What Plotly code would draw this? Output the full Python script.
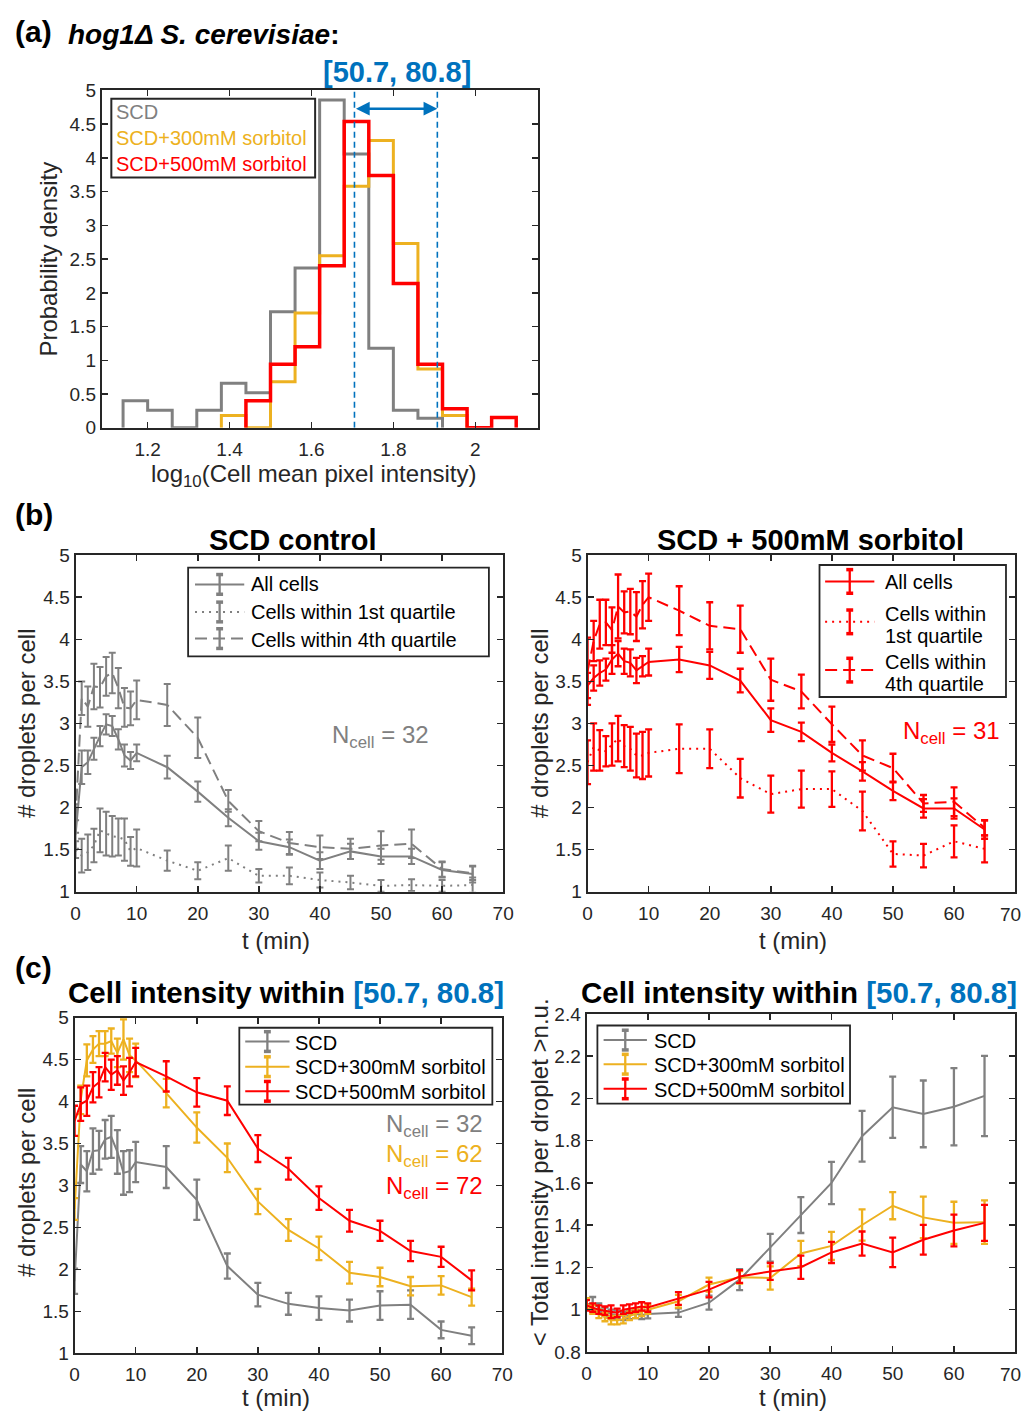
import math
import plotly.graph_objects as go

W, H = 1035, 1423
FONT = "Liberation Sans, Arial, sans-serif"
AX = "#262626"
GRAY = "#808080"
YEL = "#EDB120"
RED = "#FF0000"
BLUE = "#0072BD"

# ---------------- data: panel (a) histograms ----------------
bin_width = 0.06
scd_bin_start = 1.14
scd_density = [0.40, 0.26, 0.00, 0.26, 0.66, 0.52, 1.72, 2.37, 4.86, 4.06, 1.18, 0.26, 0.14]
s300_bin_start = 1.38
s300_density = [0.18, 0.00, 0.68, 1.70, 2.55, 3.58, 4.26, 2.73, 0.87, 0.18]
s500_bin_start = 1.44
s500_density = [0.40, 0.94, 1.20, 2.40, 4.54, 3.74, 2.14, 0.94, 0.28, 0.00, 0.15]
intensity_window = [50.7, 80.8]
hist_names = ["SCD", "SCD+300mM sorbitol", "SCD+500mM sorbitol"]

# ---------------- data: time axis ----------------
t_min = [0, 1, 2, 3, 4, 5, 6, 7, 8, 9, 10, 15, 20, 25, 30, 35, 40, 45, 50, 55, 60, 65]
t_ticks = [0, 10, 20, 30, 40, 50, 60, 70]

# ---------------- panel (b) SCD control ----------------
b_scd_all = [1.68, 2.48, 2.54, 2.70, 2.85, 2.99, 2.97, 2.81, 2.62, 2.56, 2.65,
             2.48, 2.19, 1.88, 1.60, 1.53, 1.37, 1.48, 1.42, 1.42, 1.26, 1.21]
b_scd_all_err = [0.17, 0.20, 0.14, 0.13, 0.12, 0.12, 0.12, 0.12, 0.13, 0.10, 0.10,
                 0.135, 0.12, 0.10, 0.10, 0.09, 0.10, 0.09, 0.09, 0.09, 0.09, 0.10]
b_scd_q4 = [1.87, 3.30, 3.20, 3.44, 3.43, 3.56, 3.60, 3.42, 3.19, 3.18, 3.28,
            3.22, 2.83, 2.08, 1.72, 1.58, 1.53, 1.51, 1.55, 1.57, 1.27, 1.22]
b_scd_q4_err = [0.17, 0.20, 0.24, 0.27, 0.24, 0.23, 0.24, 0.24, 0.23, 0.20, 0.23,
                0.25, 0.24, 0.13, 0.12, 0.13, 0.14, 0.12, 0.17, 0.17, 0.09, 0.08]
b_scd_q1 = [1.50, 1.43, 1.47, 1.55, 1.73, 1.69, 1.66, 1.65, 1.62, 1.48, 1.52,
            1.37, 1.25, 1.40, 1.19, 1.19, 1.14, 1.11, 1.07, 1.08, 1.07, 1.08]
b_scd_q1_err = [0.10, 0.20, 0.21, 0.20, 0.26, 0.26, 0.24, 0.22, 0.25, 0.17, 0.22,
                0.12, 0.10, 0.15, 0.08, 0.10, 0.09, 0.08, 0.07, 0.07, 0.07, 0.09]

# ---------------- panel (b) SCD + 500mM sorbitol ----------------
b_sor_all = [3.45, 3.54, 3.60, 3.64, 3.76, 3.83, 3.74, 3.72, 3.63, 3.68, 3.73,
             3.76, 3.69, 3.51, 3.04, 2.90, 2.65, 2.43, 2.20, 1.99, 1.99, 1.74]
b_sor_all_err = [0.15, 0.15, 0.15, 0.13, 0.17, 0.15, 0.15, 0.16, 0.15, 0.12, 0.16,
                 0.15, 0.16, 0.14, 0.14, 0.11, 0.10, 0.11, 0.11, 0.11, 0.12, 0.11]
b_sor_q4 = [3.62, 3.98, 4.18, 4.20, 4.11, 4.39, 4.32, 4.33, 4.27, 4.41, 4.50,
            4.34, 4.16, 4.12, 3.52, 3.38, 2.99, 2.62, 2.47, 2.05, 2.07, 1.76]
b_sor_q4_err = [0.40, 0.24, 0.29, 0.27, 0.27, 0.38, 0.25, 0.27, 0.29, 0.28, 0.28,
                0.29, 0.28, 0.28, 0.25, 0.20, 0.21, 0.18, 0.17, 0.10, 0.17, 0.09]
b_sor_q1 = [2.54, 2.72, 2.68, 2.67, 2.75, 2.82, 2.73, 2.70, 2.62, 2.62, 2.65,
            2.70, 2.70, 2.35, 2.16, 2.22, 2.22, 1.96, 1.45, 1.43, 1.60, 1.51]
b_sor_q1_err = [0.26, 0.28, 0.24, 0.18, 0.25, 0.27, 0.25, 0.26, 0.26, 0.28, 0.28,
                0.29, 0.23, 0.23, 0.22, 0.22, 0.21, 0.23, 0.15, 0.14, 0.19, 0.16]
b_ncell = [32, 31]
b_legend_left = [["All cells"], ["Cells within 1st quartile"], ["Cells within 4th quartile"]]
b_legend_right = [["All cells"], ["Cells within", "1st quartile"], ["Cells within", "4th quartile"]]

# ---------------- panel (c) droplets per cell within window ----------------
c_scd = [1.86, 3.25, 3.17, 3.41, 3.42, 3.55, 3.58, 3.40, 3.15, 3.17, 3.28,
         3.22, 2.83, 2.04, 1.70, 1.59, 1.54, 1.51, 1.57, 1.58, 1.28, 1.21]
c_scd_err = [0.15, 0.22, 0.24, 0.27, 0.23, 0.23, 0.25, 0.26, 0.26, 0.25, 0.24,
             0.25, 0.24, 0.15, 0.14, 0.13, 0.14, 0.13, 0.17, 0.17, 0.10, 0.10]
c_300 = [2.72, 4.02, 4.49, 4.62, 4.69, 4.69, 4.72, 4.58, 4.74, 4.55, 4.49,
         4.10, 3.69, 3.33, 2.81, 2.47, 2.25, 1.96, 1.91, 1.80, 1.81, 1.67]
c_300_err = [0.13, 0.17, 0.19, 0.16, 0.15, 0.15, 0.15, 0.17, 0.24, 0.20, 0.20,
             0.17, 0.18, 0.17, 0.15, 0.13, 0.14, 0.13, 0.11, 0.11, 0.11, 0.10]
c_500 = [3.77, 3.97, 4.01, 4.17, 4.23, 4.41, 4.32, 4.37, 4.25, 4.35, 4.47,
         4.30, 4.11, 4.01, 3.44, 3.20, 2.85, 2.58, 2.46, 2.22, 2.15, 1.87]
c_500_err = [0.18, 0.20, 0.18, 0.18, 0.18, 0.17, 0.18, 0.17, 0.17, 0.17, 0.17,
             0.18, 0.17, 0.17, 0.16, 0.13, 0.14, 0.13, 0.12, 0.12, 0.12, 0.12]
c_ncell = [32, 62, 72]

# ---------------- panel (c) total intensity per droplet ----------------
d_scd = [1.025, 1.03, 1.01, 0.99, 0.98, 0.975, 0.97, 0.975, 0.98, 0.975, 0.979,
         0.986, 1.033, 1.142, 1.293, 1.448, 1.600, 1.821, 1.958, 1.927, 1.961, 2.012]
d_scd_err = [0.025, 0.03, 0.02, 0.02, 0.02, 0.02, 0.02, 0.02, 0.02, 0.02, 0.02,
             0.02, 0.033, 0.05, 0.066, 0.085, 0.10, 0.12, 0.145, 0.158, 0.183, 0.19]
d_300 = [1.03, 1.00, 0.98, 0.965, 0.95, 0.95, 0.955, 0.97, 0.98, 0.99, 1.00,
         1.04, 1.119, 1.153, 1.150, 1.266, 1.302, 1.401, 1.492, 1.437, 1.411, 1.414]
d_300_err = [0.025, 0.02, 0.02, 0.02, 0.02, 0.02, 0.02, 0.02, 0.02, 0.02, 0.02,
             0.03, 0.033, 0.03, 0.055, 0.06, 0.066, 0.074, 0.064, 0.098, 0.10, 0.103]
d_500 = [1.02, 1.01, 1.00, 0.995, 0.99, 0.985, 1.00, 1.005, 1.01, 1.015, 1.01,
         1.053, 1.095, 1.157, 1.181, 1.201, 1.271, 1.313, 1.271, 1.331, 1.375, 1.411]
d_500_err = [0.025, 0.02, 0.02, 0.02, 0.03, 0.02, 0.02, 0.02, 0.02, 0.02, 0.02,
             0.03, 0.037, 0.03, 0.04, 0.055, 0.05, 0.057, 0.07, 0.07, 0.075, 0.085]


# ---------------- helpers ----------------
def fx(p):
    return p / W


def fy(p):
    return 1 - p / H


def stairs(start, width, vals):
    edges = [start + i * width for i in range(len(vals) + 1)]
    return [edges[0]] + edges, [0] + list(vals) + [0]


DASH = "12px,6px"
DOT = "2px,5px"

fig = go.Figure()

for (start, dens, col, lw) in [(scd_bin_start, scd_density, GRAY, 3),
                                (s300_bin_start, s300_density, YEL, 3),
                                (s500_bin_start, s500_density, RED, 3.5)]:
    xs, ys = stairs(start, bin_width, dens)
    fig.add_trace(go.Scatter(x=xs, y=ys, mode="lines", line=dict(color=col, width=lw, shape="hv"),
                             showlegend=False, xaxis="x", yaxis="y", cliponaxis=True))

lo, hi = [math.log10(v) for v in intensity_window]


def err_trace(x, y, e, col, dash, lw, ax, cw, th):
    return go.Scatter(x=x, y=y, mode="lines", line=dict(color=col, width=lw, dash=dash),
                      error_y=dict(type="data", array=e, visible=True, color=col, thickness=th, width=cw),
                      showlegend=False, xaxis="x" + ax, yaxis="y" + ax)


for (y, e, dash) in [(b_scd_all, b_scd_all_err, "solid"), (b_scd_q1, b_scd_q1_err, DOT), (b_scd_q4, b_scd_q4_err, DASH)]:
    fig.add_trace(err_trace(t_min, y, e, GRAY, dash, 2, "2", 3.5, 2))
for (y, e, dash) in [(b_sor_all, b_sor_all_err, "solid"), (b_sor_q1, b_sor_q1_err, DOT), (b_sor_q4, b_sor_q4_err, DASH)]:
    fig.add_trace(err_trace(t_min, y, e, RED, dash, 2, "3", 3.5, 2.3))
for (y, e, col) in [(c_scd, c_scd_err, GRAY), (c_300, c_300_err, YEL), (c_500, c_500_err, RED)]:
    fig.add_trace(err_trace(t_min, y, e, col, "solid", 2, "4", 3.5, 2.3))
for (y, e, col) in [(d_scd, d_scd_err, GRAY), (d_300, d_300_err, YEL), (d_500, d_500_err, RED)]:
    fig.add_trace(err_trace(t_min, y, e, col, "solid", 2, "5", 3.5, 2.3))


def axis(domain_px, horizontal, rng, dtick, tick0=0, **kw):
    if horizontal:
        dom = [fx(domain_px[0]), fx(domain_px[1])]
    else:
        dom = [fy(domain_px[1]), fy(domain_px[0])]
    d = dict(domain=dom, range=rng, tickmode="linear", tick0=tick0, dtick=dtick,
             showline=True, linecolor=AX, linewidth=2, mirror="ticks", ticks="inside",
             ticklen=6, tickwidth=1.5, tickcolor=AX, showgrid=False, zeroline=False,
             tickfont=dict(family=FONT, size=19, color=AX))
    d.update(kw)
    return d


# right-hand time axes: last label drawn as text just inside the page edge
t_text_right = [str(v) for v in t_ticks[:-1]] + [""]

fig.update_layout(
    autosize=True,
    margin=dict(l=0, r=0, t=0, b=0, pad=0),
    paper_bgcolor="white", plot_bgcolor="white",
    font=dict(family=FONT, color=AX),
    showlegend=False,
    xaxis=axis([98.3, 541.7], True, [1.088, 2.154], 0.2, anchor="y", ticklabelstandoff=3),
    yaxis=axis([81.7, 424], False, [0, 5], 0.5, anchor="x"),
    xaxis2=axis([71.7, 506], True, [0, 70], 10, anchor="y2", ticklabelstandoff=3),
    yaxis2=axis([553.3, 895], False, [1, 5], 0.5, anchor="x2"),
    xaxis3=axis([591.7, 1026], True, [0, 70], 10, anchor="y3", ticklabelstandoff=3,
                tickmode="array", tickvals=t_ticks, ticktext=t_text_right),
    yaxis3=axis([553.3, 895], False, [1, 5], 0.5, anchor="x3"),
    xaxis4=axis([70.7, 505], True, [0, 70], 10, anchor="y4", ticklabelstandoff=3),
    yaxis4=axis([1022.7, 1363.5], False, [1, 5], 0.5, anchor="x4"),
    xaxis5=axis([590.7, 1026], True, [0, 70], 10, anchor="y5", ticklabelstandoff=3,
                tickmode="array", tickvals=t_ticks, ticktext=t_text_right),
    yaxis5=axis([1019, 1362], False, [0.8, 2.4], 0.2, tick0=0.8, anchor="x5"),
)

ann = []
shapes = []


def text(x, y, s, size, color=AX, xanchor="center", angle=0):
    ann.append(dict(x=fx(x), y=fy(y), xref="paper", yref="paper", text=s, showarrow=False,
                    xanchor=xanchor, yanchor="middle", textangle=angle,
                    font=dict(family=FONT, size=size, color=color)))


def pline(x0, y0, x1, y1, col, w, dash="solid"):
    shapes.append(dict(type="line", xref="paper", yref="paper", x0=fx(x0), y0=fy(y0), x1=fx(x1), y1=fy(y1),
                       line=dict(color=col, width=w, dash=dash)))


def legend(box, gx, tx, rows, size=20):
    x0, x1, y0, y1 = box
    shapes.append(dict(type="rect", xref="paper", yref="paper", x0=fx(x0), x1=fx(x1), y0=fy(y1), y1=fy(y0),
                       line=dict(color=AX, width=1.8), fillcolor="white"))
    for (gy, half, col, dash, lines, lys) in rows:
        pline(gx[0], gy, gx[1], gy, col, 2, dash)
        gc = (gx[0] + gx[1]) / 2
        pline(gc, gy - half, gc, gy + half, col, 2.3)
        pline(gc - 3.5, gy - half, gc + 3.5, gy - half, col, 3.5)
        pline(gc - 3.5, gy + half, gc + 3.5, gy + half, col, 3.5)
        for s, ly in zip(lines, lys):
            text(tx, ly, s, size, "black", "left")


legend((186, 491.5, 566, 656), (193, 243), 248,
       [(583, 10, GRAY, "solid", b_legend_left[0], [583]),
        (611, 10, GRAY, DOT, b_legend_left[1], [611]),
        (638, 10, GRAY, DASH, b_legend_left[2], [639])])
legend((827.3, 1016.7, 563.3, 697.3), (833, 883), 892,
       [(580, 12, RED, "solid", b_legend_right[0], [581]),
        (621, 12, RED, DOT, b_legend_right[1], [613, 635]),
        (670, 12, RED, DASH, b_legend_right[2], [662, 684])])
legend((238, 495, 1033, 1111), (244, 289), 293,
       [(1047, 10, GRAY, "solid", [hist_names[0]], [1048]),
        (1072.5, 10, YEL, "solid", [hist_names[1]], [1073]),
        (1097.5, 10, RED, "solid", [hist_names[2]], [1098])])
legend((601.7, 858.3, 1030.7, 1110), (608, 652), 657,
       [(1045.5, 10, GRAY, "solid", [hist_names[0]], [1046]),
        (1070, 10, YEL, "solid", [hist_names[1]], [1071]),
        (1095, 10, RED, "solid", [hist_names[2]], [1096])])

text(8, 22, "<b>(a)</b>", 30, "black", "left")
text(62, 25, "<b><i>hog1Δ S. cerevisiae</i>:</b>", 28, "black", "left")
text(398, 63, "<b>[%.1f, %.1f]</b>" % tuple(intensity_window), 29, BLUE)
text(8, 512, "<b>(b)</b>", 30, "black", "left")
text(293, 538, "<b>SCD control</b>", 29, "black")
text(818, 538, "<b>SCD + 500mM sorbitol</b>", 29, "black")
text(8, 972, "<b>(c)</b>", 30, "black", "left")
ctitle = "<b>Cell intensity within <span style='color:%s'>[%.1f, %.1f]</span></b>" % (BLUE, *intensity_window)
text(285, 997, ctitle, 29.5, "black")
text(806, 997, ctitle, 29.5, "black")

# last time-axis labels of the right panels (aligned with the other tick labels)
text(1021, 918, str(t_ticks[-1]), 19, AX)
text(1021, 1385, str(t_ticks[-1]), 19, AX)

text(313, 472, "log<sub>10</sub>(Cell mean pixel intensity)", 24, AX)
text(44, 253, "Probability density", 24, AX, angle=-90)
text(275, 944, "t (min)", 24, AX)
text(800, 944, "t (min)", 24, AX)
text(22, 724, "# droplets per cell", 24, AX, angle=-90)
text(543, 724, "# droplets per cell", 24, AX, angle=-90)
text(275, 1408, "t (min)", 24, AX)
text(800, 1408, "t (min)", 24, AX)
text(22, 1190, "# droplets per cell", 24, AX, angle=-90)
text(543, 1180, "&lt; Total intensity per droplet &gt;n.u.", 24, AX, angle=-90)

text(330, 737, "N<sub>cell</sub> = %d" % b_ncell[0], 24, GRAY, "left")
text(910, 733, "N<sub>cell</sub> = %d" % b_ncell[1], 24, RED, "left")
for yy, n, col in zip([1132, 1163, 1195], c_ncell, [GRAY, YEL, RED]):
    text(385, yy, "N<sub>cell</sub> = %d" % n, 24, col, "left")

shapes.append(dict(type="rect", xref="paper", yref="paper", x0=fx(108), x1=fx(315), y0=fy(170), y1=fy(90),
                   line=dict(color=AX, width=2), fillcolor="rgba(0,0,0,0)"))
for yy, name, col in zip([104, 130, 156], hist_names, [GRAY, YEL, RED]):
    text(111, yy, name, 20, col, "left")

ann.append(dict(x=hi, y=4.73, ax=lo, ay=4.73, xref="x", yref="y", axref="x", ayref="y",
                text="", showarrow=True, arrowhead=2, startarrowhead=2, arrowside="end+start",
                arrowsize=1.1, arrowwidth=2.5, arrowcolor=BLUE, standoff=0, startstandoff=0))

for v in (lo, hi):
    shapes.append(dict(type="line", xref="x", yref="y", x0=v, x1=v, y0=0, y1=5,
                       line=dict(color=BLUE, width=1.6, dash="6px,4px")))

fig.update_layout(annotations=ann, shapes=shapes)
# pin the plot div to the page's top-left corner; static plot (no drag/hover layers)
fig.write_html("out.html",
               config={"staticPlot": True},
               default_width="%dpx" % W,
               default_height="%dpx; position:absolute; top:0px; left:0px" % H,
               post_script="document.body.style.margin='0px';")
